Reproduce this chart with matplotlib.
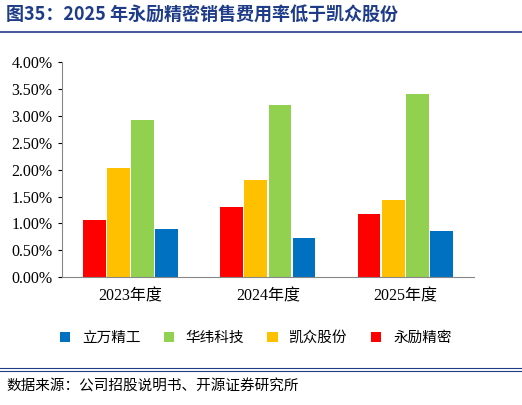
import matplotlib.pyplot as plt
import numpy as np
from matplotlib.ticker import FuncFormatter

plt.rcParams['font.family'] = ['Liberation Serif', 'Noto Sans CJK SC', 'DejaVu Sans']

years = ['2023年度', '2024年度', '2025年度']
names = ['永励精密', '凯众股份', '华纬科技', '立万精工']
colors = ['#FF0000', '#FFC000', '#92D050', '#0070C0']
values = {
    '永励精密': [1.07, 1.30, 1.17],
    '凯众股份': [2.03, 1.81, 1.44],
    '华纬科技': [2.93, 3.20, 3.41],
    '立万精工': [0.89, 0.73, 0.86],
}
legend_order = ['立万精工', '华纬科技', '凯众股份', '永励精密']

fig = plt.figure(figsize=(5.22, 4.05), dpi=100)
ax = fig.add_axes([0.118, 0.316, 0.79, 0.53])

x = np.arange(len(years))
w = 0.175
bars = {}
for i, n in enumerate(names):
    bars[n] = ax.bar(x + (i - 1.5) * w, values[n], w * 0.94, color=colors[i], label=n)

ax.set_ylim(0, 4.0)
ax.set_yticks(np.arange(0, 4.01, 0.5))
ax.yaxis.set_major_formatter(FuncFormatter(lambda v, p: f'{v:.2f}%'))
ax.set_xticks(x)
ax.set_xticklabels(years, fontsize=11.5)
ax.tick_params(axis='y', labelsize=11.5, length=3)
ax.tick_params(axis='x', length=0, pad=8)
ax.set_xlim(-0.5, 2.5)
for s in ['top', 'right']:
    ax.spines[s].set_visible(False)
ax.spines['left'].set_color('#888888')
ax.spines['bottom'].set_color('#888888')

fig.legend([bars[n] for n in legend_order], legend_order, loc='center', ncol=4,
           bbox_to_anchor=(0.49, 0.165), frameon=False,
           handlelength=0.7, handleheight=0.7, columnspacing=1.6,
           prop={'family': ['Noto Sans CJK SC'], 'size': 10.5})

fig.text(0.012, 0.962, '图35：2025 年永励精密销售费用率低于凯众股份', fontsize=13,
         fontweight='bold', color='#1F3C88', va='center',
         family=['Noto Sans CJK SC'])
fig.add_artist(plt.Line2D([0.0, 1.0], [0.922, 0.922], color='#1F3C88', lw=1.2))
fig.add_artist(plt.Line2D([0.0, 1.0], [0.092, 0.092], color='#1F3C88', lw=0.8))
fig.add_artist(plt.Line2D([0.0, 1.0], [0.085, 0.085], color='#1F3C88', lw=0.8))
fig.text(0.012, 0.045, '数据来源：公司招股说明书、开源证券研究所', fontsize=10.5,
         va='center', family=['Noto Sans CJK SC'])

fig.savefig('out.png', dpi=100)
